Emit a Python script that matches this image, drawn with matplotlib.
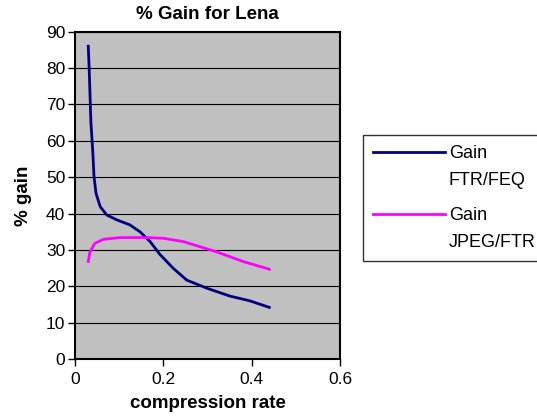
import numpy as np
from matplotlib import pyplot as plt

plt.rcParams['font.family'] = ['Liberation Sans', 'DejaVu Sans']

# compression rate vs % gain
rate_feq = [0.030, 0.032, 0.036, 0.040, 0.043, 0.0475, 0.057, 0.072, 0.094,
            0.124, 0.147, 0.170, 0.192, 0.222, 0.253, 0.298, 0.351, 0.396, 0.440]
gain_feq = [86.0, 80.0, 65.0, 57.5, 50.2, 45.6, 41.9, 39.6, 38.3,
            36.9, 35.0, 32.3, 28.8, 25.0, 21.7, 19.5, 17.3, 16.0, 14.2]

rate_jpeg = [0.030, 0.034, 0.045, 0.064, 0.102, 0.162, 0.200, 0.245, 0.320, 0.381, 0.440]
gain_jpeg = [26.8, 29.5, 31.8, 32.9, 33.4, 33.4, 33.2, 32.3, 29.5, 26.8, 24.7]

labels = ['Gain\nFTR/FEQ', 'Gain\nJPEG/FTR']

fig = plt.figure(figsize=(5.37, 4.17), dpi=100)
ax = fig.add_axes([0.1397, 0.139, 0.4934, 0.785])
ax.set_facecolor('#C0C0C0')

ax.plot(rate_feq, gain_feq, color='#000080', lw=2.0, label=labels[0])
ax.plot(rate_jpeg, gain_jpeg, color='#FF00FF', lw=2.0, label=labels[1])

ax.set_xlim(0, 0.6)
ax.set_ylim(0, 90)
ax.set_xticks([0, 0.2, 0.4, 0.6])
ax.set_xticklabels(['0', '0.2', '0.4', '0.6'])
ax.set_yticks(np.arange(0, 91, 10))
ax.yaxis.grid(True, color='black', lw=0.8)
ax.set_axisbelow(True)
for s in ax.spines.values():
    s.set_linewidth(1.5)
ax.tick_params(direction='out', length=5, width=1, labelsize=12.5, pad=2)
ax.tick_params(axis='x', pad=4)

ax.set_title('% Gain for Lena', fontsize=13.5, fontweight='bold', pad=9)
ax.set_xlabel('compression rate', fontsize=13.5, fontweight='bold', labelpad=6)
ax.set_ylabel('% gain', fontsize=13.5, fontweight='bold', labelpad=10)

leg = fig.legend(loc='upper left', bbox_to_anchor=(0.676, 0.676), fontsize=13,
                 handlelength=4.0, handletextpad=0.2, frameon=True, fancybox=False,
                 edgecolor='black', borderpad=0.55, labelspacing=1.0, borderaxespad=0)
leg.get_frame().set_linewidth(1.0)
for t in leg.get_texts():
    t.set_linespacing(1.75)
# put the legend line level with the first text row, as in the original
for h in leg.legend_handles:
    h.set_ydata(np.asarray(h.get_ydata()) + 11)

fig.savefig('out.png', dpi=100)
